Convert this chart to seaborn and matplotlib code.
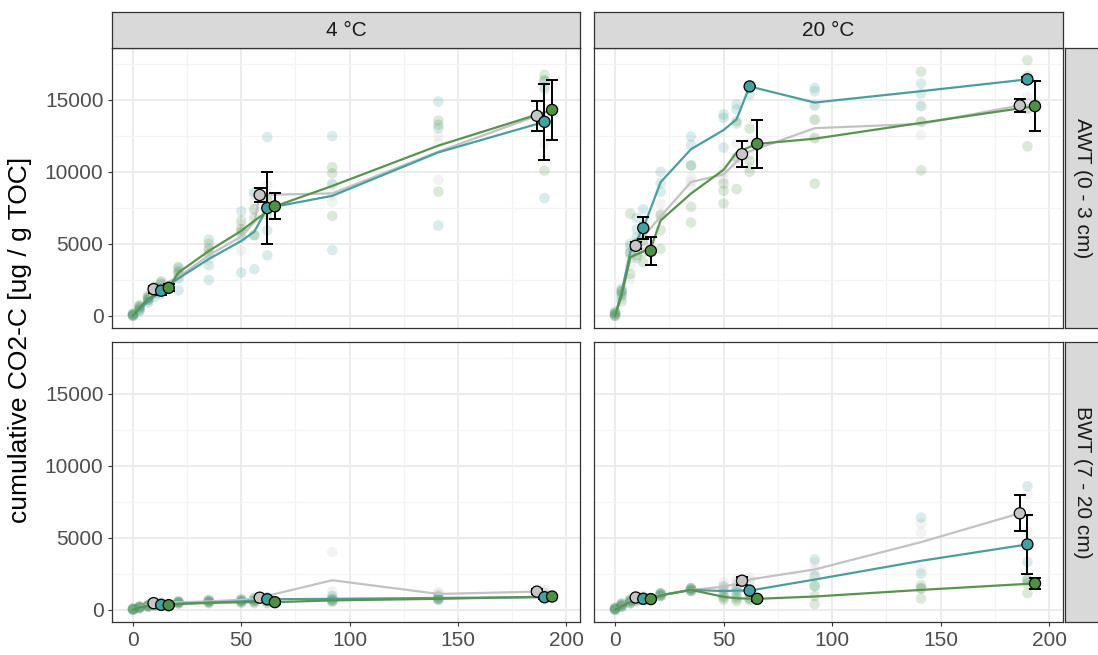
import numpy as np
import pandas as pd
import matplotlib
matplotlib.use("Agg")
import matplotlib.pyplot as plt
from matplotlib.ticker import MultipleLocator
import seaborn as sns

sns.set_theme(style="white")
plt.rcParams["font.family"] = ["Liberation Sans", "DejaVu Sans"]

# ---- factors -------------------------------------------------------------
temperatures = ["4 °C", "20 °C"]
horizons = ["AWT (0 - 3 cm)", "BWT (7 - 20 cm)"]
treatments = ["control", "treatment A", "treatment B"]

point_fill = {"control": "#C6C6C6", "treatment A": "#43A19E", "treatment B": "#4F8F46"}
line_col = {"control": "#C2C2C2", "treatment A": "#4A9F9D", "treatment B": "#5A9350"}
dodge = {"control": -3.5, "treatment A": 0.0, "treatment B": 3.5}

# ---- sampling days -------------------------------------------------------
raw_days = [0, 3, 7, 10, 13, 21, 35, 50, 56, 62, 92, 141, 190]
line_days = [0, 3, 7, 13, 21, 35, 50, 56, 62, 92, 141, 190]
summary_days = [13, 62, 190]

# ---- replicate measurements (3 replicates per treatment) -----------------
# 4 °C, AWT
raw_4_awt_control = [
    [0, 400, 1000, 1500, 1900, 2600, 4300, 4540, 7400, 8350, 7890, 9440, 11940],
    [50, 600, 1200, 1700, 2100, 2900, 3900, 6000, 8000, 9050, 8400, 12000, 13800],
    [100, 500, 1300, 1900, 1800, 2800, 4600, 6300, 8400, 8000, 9100, 12480, 15900],
]
raw_4_awt_a = [
    [0, 300, 900, 1300, 1500, 1760, 2480, 3000, 3240, 4190, 4560, 6270, 8170],
    [50, 500, 1100, 1600, 1800, 2600, 3500, 5420, 5600, 5930, 9160, 14880, 15760],
    [100, 700, 1300, 2000, 2300, 3300, 5300, 7250, 8600, 12410, 12480, 13030, 16340],
]
raw_4_awt_b = [
    [0, 600, 1400, 1800, 1900, 3000, 4650, 6000, 5600, 7000, 6940, 8630, 10090],
    [100, 400, 1100, 2000, 2200, 3400, 5000, 6600, 7400, 7600, 9900, 13260, 16340],
    [150, 700, 1200, 1700, 2400, 3100, 4300, 5800, 6800, 8200, 10320, 13560, 16730],
]
# 20 °C, AWT
raw_20_awt_control = [
    [0, 1200, 2550, 4600, 5000, 6800, 9000, 9500, 10500, 10300, 12340, 12550, 14370],
    [100, 1600, 3500, 4900, 5500, 7060, 9300, 9900, 11000, 11200, 13620, 13480, 14800],
    [200, 1800, 4000, 5100, 5800, 7780, 9600, 10200, 12000, 12100, 14620, 14570, 15200],
]
raw_20_awt_a = [
    [0, 1500, 4800, 5440, 6100, 9200, 11880, 11690, 13350, 15370, 14620, 15430, 16320],
    [150, 1700, 5000, 6000, 7400, 10000, 12450, 13750, 14330, 15900, 15600, 16130, 16670],
    [300, 1900, 4400, 6800, 6300, 8600, 10440, 13980, 14680, 16000, 15830, 14570, 16500],
]
raw_20_awt_b = [
    [0, 1000, 4350, 4000, 3700, 4630, 6480, 7800, 8800, 10000, 9180, 10100, 11770],
    [100, 1400, 2900, 4200, 4400, 5960, 7570, 8680, 11000, 10750, 12340, 13480, 14370],
    [200, 1700, 7090, 4860, 5200, 7000, 10440, 9180, 13520, 13000, 13620, 16960, 17760],
]
# 4 °C, BWT
raw_4_bwt_control = [
    [0, 150, 250, 350, 400, 500, 600, 650, 700, 750, 920, 1000, 1150],
    [40, 200, 330, 450, 480, 550, 650, 720, 800, 850, 1260, 1100, 1250],
    [80, 250, 400, 520, 550, 620, 720, 800, 900, 900, 4000, 1250, 1400],
]
raw_4_bwt_a = [
    [0, 120, 220, 300, 330, 450, 520, 580, 620, 650, 600, 720, 800],
    [40, 170, 280, 350, 380, 520, 600, 650, 700, 750, 720, 800, 880],
    [80, 220, 340, 400, 420, 560, 660, 720, 800, 850, 960, 950, 950],
]
raw_4_bwt_b = [
    [0, 100, 200, 280, 300, 420, 450, 480, 460, 450, 550, 680, 850],
    [40, 160, 260, 330, 350, 500, 520, 540, 540, 520, 650, 760, 920],
    [80, 220, 320, 380, 400, 560, 600, 620, 620, 620, 750, 840, 990],
]
# 20 °C, BWT
raw_20_bwt_control = [
    [0, 250, 500, 700, 800, 950, 1300, 1500, 1700, 1800, 2340, 2840, 5440],
    [60, 350, 650, 850, 900, 1050, 1400, 1650, 1900, 2000, 2790, 5360, 6700],
    [120, 450, 750, 1000, 1000, 1150, 1500, 1900, 2100, 2250, 3300, 5980, 8000],
]
raw_20_bwt_a = [
    [0, 220, 450, 650, 700, 950, 1300, 1100, 1200, 1300, 1650, 1480, 2060],
    [60, 320, 600, 800, 800, 1050, 1400, 1350, 1350, 1330, 2340, 2500, 3320],
    [120, 420, 700, 900, 850, 1150, 1500, 1600, 1450, 1400, 3500, 6400, 8580],
]
raw_20_bwt_b = [
    [0, 200, 450, 600, 650, 950, 1300, 700, 600, 650, 390, 780, 1150],
    [60, 300, 550, 750, 750, 1050, 1400, 850, 750, 760, 960, 1480, 1830],
    [120, 400, 650, 850, 850, 1150, 1500, 950, 900, 850, 1650, 1700, 2100],
]

# ---- mean trajectories ---------------------------------------------------
mean_4_awt_control = [0, 500, 1150, 1850, 2700, 4200, 5500, 6500, 8390, 8500, 11400, 13890]
mean_4_awt_a = [0, 450, 1000, 1740, 2600, 3940, 5200, 5840, 7480, 8330, 11350, 13470]
mean_4_awt_b = [0, 550, 1200, 1940, 3000, 4500, 5900, 6600, 7600, 9020, 11820, 14300]

mean_20_awt_control = [0, 1500, 3900, 4860, 6900, 9290, 9820, 10700, 11230, 13030, 13330, 14610]
mean_20_awt_a = [0, 1640, 4420, 6090, 9280, 11570, 12900, 13650, 15930, 14810, 15600, 16420]
mean_20_awt_b = [0, 1400, 4070, 4700, 6620, 8490, 10140, 11340, 11940, 12300, 13400, 14560]

mean_4_bwt_control = [0, 200, 330, 460, 520, 580, 700, 760, 840, 2050, 1100, 1260]
mean_4_bwt_a = [0, 180, 280, 340, 420, 500, 580, 640, 730, 760, 820, 870]
mean_4_bwt_b = [0, 160, 260, 320, 400, 480, 520, 540, 530, 650, 760, 920]

mean_20_bwt_control = [0, 300, 600, 850, 1030, 1380, 1600, 1800, 2020, 2800, 4700, 6700]
mean_20_bwt_a = [0, 280, 560, 760, 1000, 1380, 1300, 1330, 1330, 2100, 3400, 4540]
mean_20_bwt_b = [0, 260, 540, 740, 1000, 1380, 900, 800, 760, 920, 1380, 1830]

# ---- phase summaries (mean and standard deviation) -----------------------
summ_4_awt_mean = {"control": [1850, 8390, 13890], "treatment A": [1740, 7480, 13470], "treatment B": [1940, 7600, 14300]}
summ_4_awt_sd = {"control": [250, 500, 1040], "treatment A": [300, 2500, 2660], "treatment B": [250, 900, 2110]}
summ_20_awt_mean = {"control": [4860, 11230, 14610], "treatment A": [6090, 15930, 16420], "treatment B": [4510, 11940, 14560]}
summ_20_awt_sd = {"control": [250, 930, 440], "treatment A": [770, 60, 180], "treatment B": [960, 1680, 1720]}
summ_4_bwt_mean = {"control": [460, 840, 1260], "treatment A": [340, 730, 870], "treatment B": [320, 530, 920]}
summ_4_bwt_sd = {"control": [100, 100, 150], "treatment A": [80, 100, 120], "treatment B": [80, 100, 120]}
summ_20_bwt_mean = {"control": [850, 2020, 6700], "treatment A": [760, 1330, 4540], "treatment B": [740, 760, 1830]}
summ_20_bwt_sd = {"control": [100, 270, 1240], "treatment A": [80, 60, 2040], "treatment B": [80, 150, 380]}

panels = {
    (0, 0): (dict(zip(treatments, [raw_4_awt_control, raw_4_awt_a, raw_4_awt_b])),
             dict(zip(treatments, [mean_4_awt_control, mean_4_awt_a, mean_4_awt_b])),
             summ_4_awt_mean, summ_4_awt_sd),
    (0, 1): (dict(zip(treatments, [raw_20_awt_control, raw_20_awt_a, raw_20_awt_b])),
             dict(zip(treatments, [mean_20_awt_control, mean_20_awt_a, mean_20_awt_b])),
             summ_20_awt_mean, summ_20_awt_sd),
    (1, 0): (dict(zip(treatments, [raw_4_bwt_control, raw_4_bwt_a, raw_4_bwt_b])),
             dict(zip(treatments, [mean_4_bwt_control, mean_4_bwt_a, mean_4_bwt_b])),
             summ_4_bwt_mean, summ_4_bwt_sd),
    (1, 1): (dict(zip(treatments, [raw_20_bwt_control, raw_20_bwt_a, raw_20_bwt_b])),
             dict(zip(treatments, [mean_20_bwt_control, mean_20_bwt_a, mean_20_bwt_b])),
             summ_20_bwt_mean, summ_20_bwt_sd),
}


def long_raw(raw):
    rows = []
    for trt in treatments:
        for rep in raw[trt]:
            for d, v in zip(raw_days, rep):
                rows.append((trt, d, v))
    return pd.DataFrame(rows, columns=["treatment", "day", "co2"])


def long_line(means):
    rows = []
    for trt in treatments:
        for d, v in zip(line_days, means[trt]):
            x = d + dodge[trt] if d in summary_days else d
            rows.append((trt, x, v))
    return pd.DataFrame(rows, columns=["treatment", "day", "co2"])


def long_summary(m, s):
    rows = []
    for trt in treatments:
        for d, mu, sd in zip(summary_days, m[trt], s[trt]):
            rows.append((trt, d + dodge[trt], mu, sd))
    return pd.DataFrame(rows, columns=["treatment", "day", "co2", "sd"])


# ---- figure layout -------------------------------------------------------
W, H = 1098, 655
fig = plt.figure(figsize=(W / 100, H / 100), dpi=100)


def frac(x0, y0, x1, y1):
    return [x0 / W, 1 - y1 / H, (x1 - x0) / W, (y1 - y0) / H]


col_x = [(112, 580), (594, 1063)]
row_y = [(48, 328), (342, 622)]
border = "#333333"
txt_size = 15

for (r, c), (raw, means, smean, ssd) in panels.items():
    ax = fig.add_axes(frac(col_x[c][0], row_y[r][0], col_x[c][1], row_y[r][1]))
    ax.set_facecolor("white")

    raw_df = long_raw(raw)
    line_df = long_line(means)
    summ_df = long_summary(smean, ssd)

    sns.scatterplot(data=raw_df, x="day", y="co2", hue="treatment", hue_order=treatments,
                    palette=point_fill, alpha=0.2, s=58, linewidth=0, legend=False,
                    ax=ax, zorder=2)
    sns.lineplot(data=line_df, x="day", y="co2", hue="treatment", hue_order=treatments,
                 palette=line_col, estimator=None, sort=True, linewidth=1.6,
                 legend=False, ax=ax, zorder=3)
    for trt in treatments:
        sub = summ_df[summ_df["treatment"] == trt]
        ax.errorbar(sub["day"], sub["co2"], yerr=sub["sd"], fmt="none", ecolor="black",
                    elinewidth=1.4, capsize=4.5, capthick=1.4, zorder=4)
    sns.scatterplot(data=summ_df, x="day", y="co2", hue="treatment", hue_order=treatments,
                    palette=point_fill, s=64, edgecolor="black", linewidth=0.9,
                    legend=False, ax=ax, zorder=5)

    ax.set_xlim(-9.7, 206.4)
    ax.set_ylim(-850, 18600)
    ax.xaxis.set_major_locator(MultipleLocator(50))
    ax.xaxis.set_minor_locator(MultipleLocator(25))
    ax.yaxis.set_major_locator(MultipleLocator(5000))
    ax.yaxis.set_minor_locator(MultipleLocator(2500))
    ax.grid(which="major", color="#EBEBEB", linewidth=1.3)
    ax.grid(which="minor", color="#F3F3F3", linewidth=0.9)
    ax.set_axisbelow(True)
    for sp in ax.spines.values():
        sp.set_color(border)
        sp.set_linewidth(0.9)
    ax.tick_params(which="major", length=3.2, width=0.8, color=border,
                   labelsize=txt_size, labelcolor="#4D4D4D", pad=3,
                   bottom=(r == 1), left=(c == 0),
                   labelbottom=(r == 1), labelleft=(c == 0))
    ax.tick_params(which="minor", length=0)
    ax.set_xlabel("")
    ax.set_ylabel("")

    # facet strips
    if r == 0:
        sax = fig.add_axes(frac(col_x[c][0], 12, col_x[c][1], 48))
        sax.set_facecolor("#D9D9D9")
        sax.set_xticks([])
        sax.set_yticks([])
        for sp in sax.spines.values():
            sp.set_color(border)
            sp.set_linewidth(0.9)
        sax.text(0.5, 0.5, temperatures[c], ha="center", va="center",
                 fontsize=txt_size, color="#1A1A1A", transform=sax.transAxes)
    if c == 1:
        sax = fig.add_axes(frac(1065, row_y[r][0], 1100, row_y[r][1]))
        sax.set_facecolor("#D9D9D9")
        sax.set_xticks([])
        sax.set_yticks([])
        for sp in sax.spines.values():
            sp.set_color(border)
            sp.set_linewidth(0.9)
        sax.text(0.5, 0.5, horizons[r], ha="center", va="center", rotation=-90,
                 fontsize=txt_size, color="#1A1A1A", transform=sax.transAxes)

fig.text(20 / W, 1 - 340 / H, "cumulative CO2-C [ug / g TOC]", rotation=90,
         ha="center", va="center", fontsize=19, color="black")

fig.savefig("out.png", dpi=100)
